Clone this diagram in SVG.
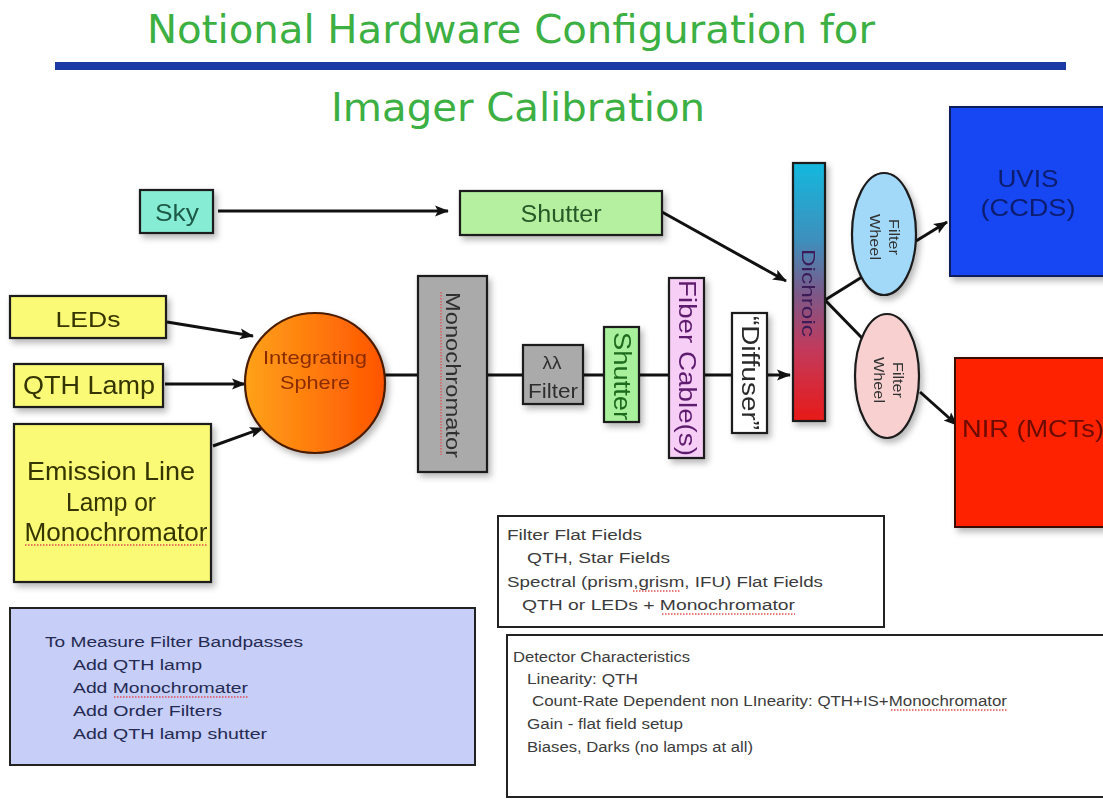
<svg xmlns="http://www.w3.org/2000/svg" width="1103" height="799" viewBox="0 0 1103 799">
  <style>
    .lbl { font-family: "Liberation Sans", Arial, sans-serif; text-anchor: middle; }
    .note { font-family: "Liberation Sans", Arial, sans-serif; }
    .title { font-family: "DejaVu Sans Condensed", "DejaVu Sans", Verdana, sans-serif; fill: #3cb043; text-anchor: middle; font-size: 39px; }
    .box { stroke: #1a1a1a; stroke-width: 2.2; }
    .wire { fill: none; stroke: #111; stroke-width: 3; }
    .squig { fill: none; stroke: #e05050; stroke-width: 1.3; stroke-dasharray: 1.5 1.5; }
  </style>
  <defs>
    <marker id="head" markerUnits="userSpaceOnUse" markerWidth="15" markerHeight="13" refX="13" refY="6.5" orient="auto">
      <path d="M0,1 L14,6.5 L0,12 L3,6.5 z" fill="#111"/>
    </marker>
    <filter id="shadow" x="-20%" y="-20%" width="150%" height="150%">
      <feDropShadow dx="3" dy="4" stdDeviation="3" flood-color="#000" flood-opacity="0.28"/>
    </filter>
    <linearGradient id="sphereFill" x1="0" y1="0" x2="1" y2="0">
      <stop offset="0" stop-color="#ffa21a"/>
      <stop offset="1" stop-color="#ff5400"/>
    </linearGradient>
    <linearGradient id="dichroicFill" x1="0" y1="0" x2="0" y2="1">
      <stop offset="0" stop-color="#14b8de"/>
      <stop offset="0.3" stop-color="#3e8fbc"/>
      <stop offset="0.5" stop-color="#7a5a8a"/>
      <stop offset="0.72" stop-color="#c23a5c"/>
      <stop offset="1" stop-color="#e81a18"/>
    </linearGradient>
  </defs>

  <rect width="1103" height="799" fill="#ffffff"/>

  <!-- heading -->
  <g id="heading">
    <text class="title" x="511" y="43" textLength="728" lengthAdjust="spacingAndGlyphs">Notional Hardware Configuration for</text>
    <rect x="55" y="62" width="1011" height="8" fill="#1c3aa6"/>
    <text class="title" x="518" y="121" textLength="374" lengthAdjust="spacingAndGlyphs">Imager Calibration</text>
  </g>

  <!-- connectors -->
  <g id="connectors">
    <line class="wire" x1="218" y1="211" x2="448" y2="211" marker-end="url(#head)"/>
    <line class="wire" x1="662" y1="212" x2="786" y2="281" marker-end="url(#head)"/>
    <line class="wire" x1="167" y1="322" x2="253" y2="336" marker-end="url(#head)"/>
    <line class="wire" x1="165" y1="384" x2="245" y2="384" marker-end="url(#head)"/>
    <line class="wire" x1="213" y1="446" x2="263" y2="428" marker-end="url(#head)"/>
    <line class="wire" x1="385" y1="375" x2="790" y2="375" marker-end="url(#head)"/>
    <polyline class="wire" points="862,277 825,300 862,338"/>
    <line class="wire" x1="916" y1="241" x2="947" y2="222" marker-end="url(#head)"/>
    <line class="wire" x1="920" y1="392" x2="957" y2="425" marker-end="url(#head)"/>
  </g>

  <!-- light sources -->
  <g id="sky" filter="url(#shadow)">
    <rect class="box" x="140" y="190" width="73" height="43" fill="#86ecd4"/>
    <text class="lbl" x="177" y="221" font-size="24" fill="#1e5a48" textLength="44" lengthAdjust="spacingAndGlyphs">Sky</text>
  </g>
  <g id="sky-shutter" filter="url(#shadow)">
    <rect class="box" x="460" y="191" width="202" height="44" fill="#b4f0a0"/>
    <text class="lbl" x="561" y="222" font-size="23" fill="#275a27" textLength="81" lengthAdjust="spacingAndGlyphs">Shutter</text>
  </g>
  <g id="leds" filter="url(#shadow)">
    <rect class="box" x="10" y="296" width="156" height="42" fill="#fafa76"/>
    <text class="lbl" x="88" y="327" font-size="22" fill="#343400" textLength="65" lengthAdjust="spacingAndGlyphs">LEDs</text>
  </g>
  <g id="qth-lamp" filter="url(#shadow)">
    <rect class="box" x="14" y="364" width="149" height="43" fill="#fafa76"/>
    <text class="lbl" x="89" y="394" font-size="25" fill="#343400" textLength="132" lengthAdjust="spacingAndGlyphs">QTH Lamp</text>
  </g>
  <g id="emission-lamp" filter="url(#shadow)">
    <rect class="box" x="14" y="424" width="197" height="158" fill="#fafa76"/>
    <text class="lbl" x="111" y="480" font-size="25" fill="#343400" textLength="168" lengthAdjust="spacingAndGlyphs">Emission Line</text>
    <text class="lbl" x="111" y="511" font-size="25" fill="#343400" textLength="90" lengthAdjust="spacingAndGlyphs">Lamp or</text>
    <text class="lbl" x="116" y="541" font-size="25" fill="#343400" textLength="183" lengthAdjust="spacingAndGlyphs">Monochromator</text>
    <path class="squig" d="M25,545 H208"/>
  </g>

  <!-- optical train -->
  <g id="integrating-sphere" filter="url(#shadow)">
    <circle cx="315" cy="383" r="70" fill="url(#sphereFill)" stroke="#4a1c00" stroke-width="2.2"/>
    <text class="lbl" x="315" y="364" font-size="19" fill="#8a2c00" textLength="104" lengthAdjust="spacingAndGlyphs">Integrating</text>
    <text class="lbl" x="315" y="389" font-size="19" fill="#8a2c00" textLength="70" lengthAdjust="spacingAndGlyphs">Sphere</text>
  </g>
  <g id="monochromator" filter="url(#shadow)">
    <rect class="box" x="418" y="276" width="69" height="196" fill="#aaaaaa"/>
    <path class="squig" d="M441,292 V455"/>
    <text class="lbl" transform="translate(452,375) rotate(90)" x="0" y="6" font-size="20" fill="#2e2e2e" textLength="166" lengthAdjust="spacingAndGlyphs">Monochromator</text>
  </g>
  <g id="lambda-filter" filter="url(#shadow)">
    <rect class="box" x="523" y="345" width="60" height="59" fill="#aaaaaa"/>
    <text class="lbl" x="552" y="369" font-size="19" fill="#2e2e2e">λλ</text>
    <text class="lbl" x="553" y="398" font-size="20" fill="#2e2e2e" textLength="50" lengthAdjust="spacingAndGlyphs">Filter</text>
  </g>
  <g id="lamp-shutter" filter="url(#shadow)">
    <rect class="box" x="604" y="327" width="35" height="95" fill="#a8f09c"/>
    <text class="lbl" transform="translate(621.5,376) rotate(90)" x="0" y="8" font-size="23" fill="#1e6a1e" textLength="88" lengthAdjust="spacingAndGlyphs">Shutter</text>
  </g>
  <g id="fiber-cables" filter="url(#shadow)">
    <rect class="box" x="669" y="278" width="35" height="180" fill="#f6cef6" stroke="#4a2a5a"/>
    <text class="lbl" transform="translate(686.5,368) rotate(90)" x="0" y="8" font-size="23" fill="#5e1e6e" textLength="176" lengthAdjust="spacingAndGlyphs">Fiber Cable(s)</text>
  </g>
  <g id="diffuser" filter="url(#shadow)">
    <rect class="box" x="732" y="313" width="35" height="120" fill="#ffffff"/>
    <text class="lbl" transform="translate(749.5,373) rotate(90)" x="0" y="8" font-size="23" fill="#2a2a2a" textLength="114" lengthAdjust="spacingAndGlyphs">“Diffuser”</text>
  </g>
  <g id="dichroic" filter="url(#shadow)">
    <rect class="box" x="793" y="163" width="32" height="258" fill="url(#dichroicFill)"/>
    <text class="lbl" transform="translate(809,293) rotate(90)" x="0" y="7" font-size="19" fill="#3a1a58" textLength="88" lengthAdjust="spacingAndGlyphs">Dichroic</text>
  </g>
  <g id="filter-wheel-uvis" filter="url(#shadow)">
    <ellipse cx="884" cy="234" rx="32" ry="61" fill="#a2d8f8" stroke="#1a1a1a" stroke-width="2.2"/>
    <text class="lbl" transform="translate(884,237) rotate(90)" x="0" y="-5" font-size="15" fill="#333" textLength="36" lengthAdjust="spacingAndGlyphs">Filter</text>
    <text class="lbl" transform="translate(884,237) rotate(90)" x="0" y="14" font-size="15" fill="#333" textLength="46" lengthAdjust="spacingAndGlyphs">Wheel</text>
  </g>
  <g id="filter-wheel-nir" filter="url(#shadow)">
    <ellipse cx="887" cy="376" rx="32" ry="62" fill="#f8d0d0" stroke="#1a1a1a" stroke-width="2.2"/>
    <text class="lbl" transform="translate(887,380) rotate(90)" x="0" y="-6" font-size="15" fill="#333" textLength="36" lengthAdjust="spacingAndGlyphs">Filter</text>
    <text class="lbl" transform="translate(887,380) rotate(90)" x="0" y="13" font-size="15" fill="#333" textLength="46" lengthAdjust="spacingAndGlyphs">Wheel</text>
  </g>

  <!-- detectors -->
  <g id="uvis" filter="url(#shadow)">
    <rect x="950" y="107" width="160" height="169" fill="#1446f2" stroke="#0c1e5a" stroke-width="2"/>
    <text class="lbl" x="1028" y="187" font-size="24" fill="#0e1e6e" textLength="61" lengthAdjust="spacingAndGlyphs">UVIS</text>
    <text class="lbl" x="1028" y="216" font-size="24" fill="#0e1e6e" textLength="95" lengthAdjust="spacingAndGlyphs">(CCDS)</text>
  </g>
  <g id="nir" filter="url(#shadow)">
    <rect x="955" y="358" width="160" height="169" fill="#ff2400" stroke="#3a0800" stroke-width="2"/>
    <text class="note" x="962" y="437" font-size="24" fill="#6a0a00" textLength="142" lengthAdjust="spacingAndGlyphs">NIR (MCTs)</text>
  </g>

  <!-- notes -->
  <g id="flat-fields">
    <rect x="498" y="516" width="386" height="111" fill="#ffffff" stroke="#222" stroke-width="2"/>
    <g class="note" font-size="15.5" fill="#3c3c3c">
      <text x="507" y="540" textLength="135" lengthAdjust="spacingAndGlyphs">Filter Flat Fields</text>
      <text x="527" y="563" textLength="143" lengthAdjust="spacingAndGlyphs">QTH, Star Fields</text>
      <text x="507" y="587" textLength="316" lengthAdjust="spacingAndGlyphs">Spectral (prism,grism, IFU) Flat Fields</text>
      <text x="522" y="610" textLength="273" lengthAdjust="spacingAndGlyphs">QTH or LEDs + Monochromator</text>
    </g>
    <path class="squig" d="M633,591 H681"/>
    <path class="squig" d="M662,614 H795"/>
  </g>
  <g id="detector-characteristics">
    <rect x="507" y="635" width="600" height="162" fill="#ffffff" stroke="#222" stroke-width="2"/>
    <g class="note" font-size="15.5" fill="#3c3c3c">
      <text x="513" y="662" textLength="177" lengthAdjust="spacingAndGlyphs">Detector Characteristics</text>
      <text x="527" y="684" textLength="111" lengthAdjust="spacingAndGlyphs">Linearity:  QTH</text>
      <text x="532" y="706" textLength="475" lengthAdjust="spacingAndGlyphs">Count-Rate Dependent non LInearity:  QTH+IS+Monochromator</text>
      <text x="527" y="729" textLength="156" lengthAdjust="spacingAndGlyphs">Gain  - flat field setup</text>
      <text x="527" y="752" textLength="226" lengthAdjust="spacingAndGlyphs">Biases, Darks (no lamps at all)</text>
    </g>
    <path class="squig" d="M891,710 H1007"/>
  </g>
  <g id="bandpass-notes">
    <rect x="10" y="608" width="465" height="157" fill="#c7cef8" stroke="#222" stroke-width="2"/>
    <g class="note" font-size="15.5" fill="#242a52">
      <text x="45" y="647" textLength="258" lengthAdjust="spacingAndGlyphs">To Measure Filter Bandpasses</text>
      <text x="73" y="670" textLength="129" lengthAdjust="spacingAndGlyphs">Add QTH lamp</text>
      <text x="73" y="693" textLength="175" lengthAdjust="spacingAndGlyphs">Add Monochromater</text>
      <text x="73" y="716" textLength="149" lengthAdjust="spacingAndGlyphs">Add Order Filters</text>
      <text x="73" y="739" textLength="194" lengthAdjust="spacingAndGlyphs">Add QTH lamp shutter</text>
    </g>
    <path class="squig" d="M114,697 H248"/>
  </g>
</svg>
